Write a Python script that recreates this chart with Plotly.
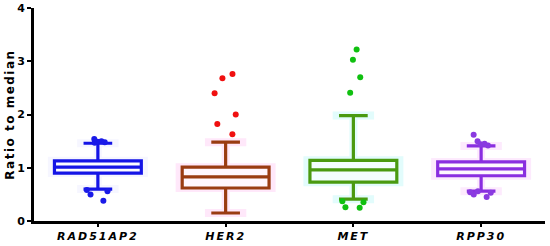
import plotly.graph_objects as go

categories = ["RAD51AP2", "HER2", "MET", "RPP30"]
q1 = [0.90, 0.62, 0.73, 0.85]
median = [1.01, 0.83, 0.96, 0.98]
q3 = [1.13, 1.01, 1.14, 1.11]
lower_whisker = [0.60, 0.15, 0.41, 0.56]
upper_whisker = [1.46, 1.48, 1.98, 1.41]
outliers = [
    [1.54, 1.49, 1.47, 1.48, 1.50, 0.58, 0.56, 0.50, 0.38],
    [1.63, 1.82, 2.00, 2.40, 2.68, 2.76],
    [3.22, 3.03, 2.70, 2.41, 0.37, 0.35, 0.25, 0.26],
    [1.62, 1.50, 1.44, 1.42, 1.45, 0.56, 0.53, 0.50, 0.45, 0.54],
]
box_colors = ["#1414e6", "#9a3c12", "#4a9a10", "#8a2ee0"]
point_colors = ["#1a1ae8", "#f01010", "#10c010", "#8a3ae0"]
halo_colors = ["#f6f6ff", "#ffe8fa", "#e2fcfc", "#fdeafd"]

fig = go.Figure()
for i, c in enumerate(categories):
    fig.add_trace(go.Box(
        x=[c], q1=[q1[i]], median=[median[i]], q3=[q3[i]],
        lowerfence=[lower_whisker[i]], upperfence=[upper_whisker[i]],
        width=0.72, whiskerwidth=0.45,
        line=dict(color=halo_colors[i], width=8), fillcolor=halo_colors[i],
        boxpoints=False, hoverinfo="skip", showlegend=False,
    ))
for i, c in enumerate(categories):
    fig.add_trace(go.Box(
        x=[c], q1=[q1[i]], median=[median[i]], q3=[q3[i]],
        lowerfence=[lower_whisker[i]], upperfence=[upper_whisker[i]],
        width=0.68, whiskerwidth=0.33,
        line=dict(color=box_colors[i], width=3.2), fillcolor="rgba(255,255,255,0.6)",
        boxpoints=False, showlegend=False,
    ))
for i, c in enumerate(categories):
    fig.add_trace(go.Box(
        x=[c] * len(outliers[i]), y=outliers[i],
        boxpoints="all", jitter=0.3, pointpos=0, width=0.68,
        marker=dict(color=point_colors[i], size=6),
        line=dict(color="rgba(0,0,0,0)", width=0), fillcolor="rgba(0,0,0,0)",
        showlegend=False,
    ))

fig.update_layout(
    width=550, height=246,
    margin=dict(l=34, r=5, t=8, b=25),
    plot_bgcolor="white", paper_bgcolor="white",
    font=dict(family="DejaVu Sans", color="black"),
    boxmode="overlay",
)
fig.update_xaxes(
    type="category", categoryorder="array", categoryarray=categories,
    range=[-0.5, 3.5],
    showline=True, linecolor="black", linewidth=3,
    ticks="outside", ticklen=3, tickwidth=2, tickcolor="black",
    tickfont=dict(size=11, weight="bold", style="italic"),
    showgrid=False, zeroline=False, automargin=False,
)
fig.update_yaxes(
    range=[0, 4], tickvals=[0, 1, 2, 3, 4],
    showline=True, linecolor="black", linewidth=3,
    ticks="outside", ticklen=4, tickwidth=2, tickcolor="black",
    tickfont=dict(size=11, weight="bold"),
    title=dict(text="Ratio to median", font=dict(size=12, weight="bold"), standoff=0),
    showgrid=False, zeroline=False, automargin=False,
)
post = (
    "document.body.style.margin='0';document.body.style.overflow='hidden';"
    "document.querySelectorAll('.xtick text').forEach(function(e){e.style.letterSpacing='2px';});"
    "document.querySelectorAll('.ytitle').forEach(function(e){e.style.letterSpacing='1.5px';});"
)
fig.write_html("out.html", config={"displayModeBar": False}, post_script=post)
